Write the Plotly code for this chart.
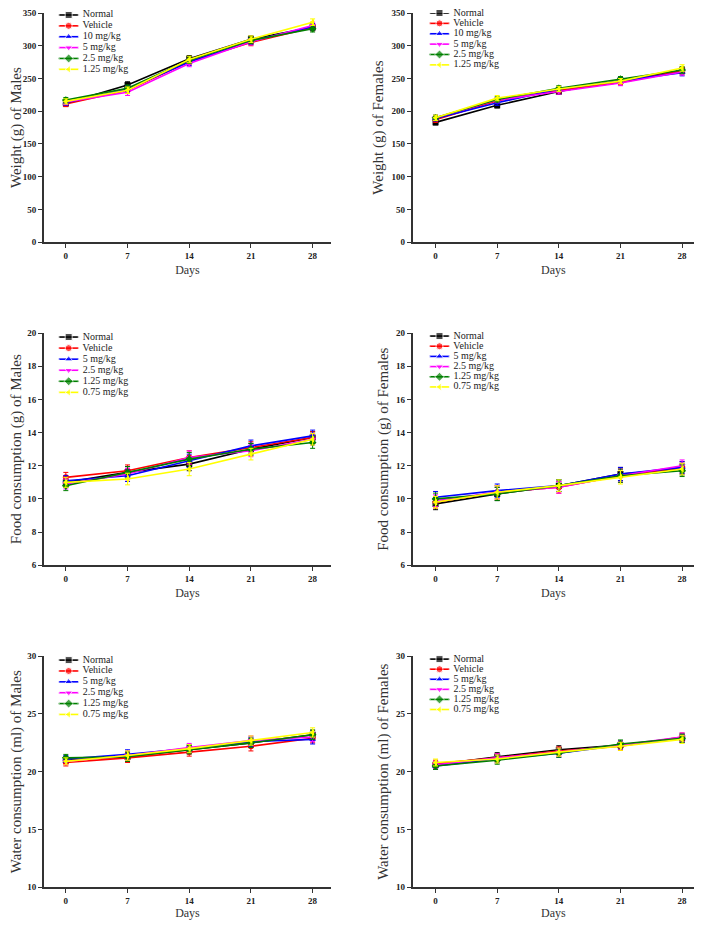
import plotly.graph_objects as go

days = [0, 7, 14, 21, 28]

names_weight = ["Normal", "Vehicle", "10 mg/kg", "5 mg/kg", "2.5 mg/kg", "1.25 mg/kg"]
names_other = ["Normal", "Vehicle", "5 mg/kg", "2.5 mg/kg", "1.25 mg/kg", "0.75 mg/kg"]

# Weight (g) of Males
wm_normal = [212, 240, 280, 310, 328]
wm_vehicle = [211, 232, 276, 305, 328]
wm_10 = [213, 234, 275, 307, 329]
wm_5 = [214, 229, 273, 306, 331]
wm_25 = [217, 235, 278, 308, 326]
wm_125 = [215, 232, 279, 310, 336]
wm_err = [4, 5, 5, 5, 5]

# Weight (g) of Females
wf_normal = [183, 209, 230, 247, 262]
wf_vehicle = [187, 216, 232, 244, 262]
wf_10 = [189, 213, 234, 247, 259]
wf_5 = [190, 217, 230, 243, 260]
wf_25 = [190, 218, 235, 249, 263]
wf_125 = [190, 220, 234, 246, 266]
wf_err = [4, 4, 4, 4, 5]

# Food consumption (g) of Males
fm_normal = [11.0, 11.6, 12.1, 13.0, 13.7]
fm_vehicle = [11.3, 11.7, 12.5, 13.1, 13.7]
fm_5 = [11.1, 11.4, 12.3, 13.2, 13.8]
fm_25 = [10.9, 11.5, 12.5, 12.9, 13.6]
fm_125 = [10.8, 11.6, 12.4, 13.0, 13.4]
fm_075 = [11.0, 11.2, 11.8, 12.7, 13.6]
fm_err = [0.3, 0.35, 0.4, 0.35, 0.35]

# Food consumption (g) of Females
ff_normal = [9.7, 10.3, 10.8, 11.5, 11.8]
ff_vehicle = [9.8, 10.4, 10.7, 11.4, 11.9]
ff_5 = [10.1, 10.5, 10.8, 11.5, 11.9]
ff_25 = [9.9, 10.4, 10.7, 11.4, 12.0]
ff_125 = [10.0, 10.3, 10.8, 11.4, 11.7]
ff_075 = [9.8, 10.4, 10.8, 11.3, 11.8]
ff_err = [0.35, 0.4, 0.35, 0.4, 0.35]

# Water consumption (ml) of Males
wam_normal = [21.0, 21.3, 21.9, 22.5, 23.2]
wam_vehicle = [20.8, 21.2, 21.7, 22.2, 22.9]
wam_5 = [21.1, 21.5, 22.0, 22.6, 22.8]
wam_25 = [20.9, 21.4, 22.1, 22.7, 23.0]
wam_125 = [21.2, 21.3, 21.9, 22.5, 23.2]
wam_075 = [20.9, 21.4, 22.0, 22.7, 23.4]
wam_err = [0.3, 0.4, 0.35, 0.4, 0.4]

# Water consumption (ml) of Females
waf_normal = [20.6, 21.3, 21.9, 22.3, 22.9]
waf_vehicle = [20.7, 21.2, 21.8, 22.2, 23.0]
waf_5 = [20.5, 21.1, 21.6, 22.3, 22.9]
waf_25 = [20.6, 21.2, 21.7, 22.3, 23.0]
waf_125 = [20.5, 21.0, 21.6, 22.4, 22.9]
waf_075 = [20.8, 21.1, 21.7, 22.2, 22.8]
waf_err = [0.3, 0.35, 0.35, 0.35, 0.35]

colors = ["#000000", "#FF0000", "#0000FF", "#FF00FF", "#008000", "#FFFF00"]
symbols = ["square", "circle", "triangle-up", "triangle-down", "diamond", "triangle-left"]

panels = [
    dict(title="Weight (g) of Males", names=names_weight,
         series=[wm_normal, wm_vehicle, wm_10, wm_5, wm_25, wm_125], err=wm_err,
         yr=[0, 350], dtick=50),
    dict(title="Weight (g) of Females", names=names_weight,
         series=[wf_normal, wf_vehicle, wf_10, wf_5, wf_25, wf_125], err=wf_err,
         yr=[0, 350], dtick=50),
    dict(title="Food consumption (g) of Males", names=names_other,
         series=[fm_normal, fm_vehicle, fm_5, fm_25, fm_125, fm_075], err=fm_err,
         yr=[6, 20], dtick=2),
    dict(title="Food consumption (g) of Females", names=names_other,
         series=[ff_normal, ff_vehicle, ff_5, ff_25, ff_125, ff_075], err=ff_err,
         yr=[6, 20], dtick=2),
    dict(title="Water consumption (ml) of Males", names=names_other,
         series=[wam_normal, wam_vehicle, wam_5, wam_25, wam_125, wam_075], err=wam_err,
         yr=[10, 30], dtick=5),
    dict(title="Water consumption (ml) of Females", names=names_other,
         series=[waf_normal, waf_vehicle, waf_5, waf_25, waf_125, waf_075], err=waf_err,
         yr=[10, 30], dtick=5),
]

OFF = 8  # default page margin of the html body (page must not overflow the window)
W, H = 702 - 2 * OFF, 928 - 2 * OFF
# pixel boxes in window coordinates: (x_left, x_right, y_top, y_bottom)
boxes = [
    (40, 329, 8, 240), (411, 694, 8, 240),
    (40, 329, 332, 567), (411, 694, 332, 567),
    (40, 329, 659, 893), (411, 694, 659, 893),
]
xranges = [[-2.5, 30.1], [-2.6, 29.35]] * 3
# legend: (line start x, first row y, row spacing) in window coordinates
legpos = [(55, 10, 11), (428, 8, 10.5), (55, 336, 11.2), (428, 335, 10.3),
          (55, 663, 11), (428, 662, 10.2)]

serif = "Liberation Serif"
fig = go.Figure()
layout = dict(width=W, height=H, margin=dict(l=0, r=0, t=0, b=0),
              paper_bgcolor="white", plot_bgcolor="rgba(0,0,0,0)", showlegend=False)

for k, p in enumerate(panels):
    idx = k + 1
    xa = "x" if idx == 1 else f"x{idx}"
    ya = "y" if idx == 1 else f"y{idx}"
    for i, (nm, vals) in enumerate(zip(p["names"], p["series"])):
        fig.add_trace(go.Scatter(
            x=days, y=vals, name=nm, mode="lines+markers",
            xaxis=xa, yaxis=ya,
            line=dict(color=colors[i], width=1.6),
            marker=dict(symbol=symbols[i], size=6, color=colors[i]),
            error_y=dict(type="data", array=p["err"], color=colors[i],
                         thickness=1, width=2.5),
            cliponaxis=False,
        ))
    xl, xr, yt, yb = [v - OFF for v in boxes[k]]
    yt = max(yt, 0)
    axcommon = dict(showline=True, linecolor="#333333", linewidth=1.5,
                    ticks="outside", ticklen=4, tickwidth=1.2, tickcolor="#333333",
                    showgrid=False, zeroline=False, fixedrange=True,
                    tickfont=dict(family=serif, size=9, color="#222222", weight="bold"))
    layout["xaxis" if idx == 1 else f"xaxis{idx}"] = dict(
        domain=[xl / W, min(xr / W, 1)], range=xranges[k], tickvals=days,
        anchor=ya, title=dict(text="Days", font=dict(family=serif, size=12, color="#333333"),
                              standoff=6),
        **axcommon)
    layout["yaxis" if idx == 1 else f"yaxis{idx}"] = dict(
        domain=[1 - yb / H, 1 - yt / H], range=p["yr"], dtick=p["dtick"],
        anchor=xa, title=dict(text=p["title"], font=dict(family=serif, size=15, color="#333333"),
                              standoff=4),
        **axcommon)

# legend keys drawn on a helper axis spanning the page in window pixel units
layout["xaxis7"] = dict(domain=[0, 1], range=[OFF, OFF + W], visible=False, fixedrange=True, anchor="y7")
layout["yaxis7"] = dict(domain=[0, 1], range=[OFF + H, OFF], visible=False, fixedrange=True, anchor="x7")
for k, p in enumerate(panels):
    lx, ly, sp = legpos[k]
    for i, nm in enumerate(p["names"]):
        yy = ly + i * sp
        fig.add_trace(go.Scatter(
            x=[lx, lx + 10, lx + 20], y=[yy, yy, yy], xaxis="x7", yaxis="y7",
            mode="lines+markers+text", text=["", "", " " + nm], textposition="middle right",
            textfont=dict(family=serif, size=10, color="#222222"),
            line=dict(color=colors[i], width=1.6),
            marker=dict(symbol=symbols[i], size=[1, 7, 1], color=colors[i]),
            hoverinfo="skip", cliponaxis=False,
        ))

fig.update_layout(**layout)
fig.write_html("out.html")
